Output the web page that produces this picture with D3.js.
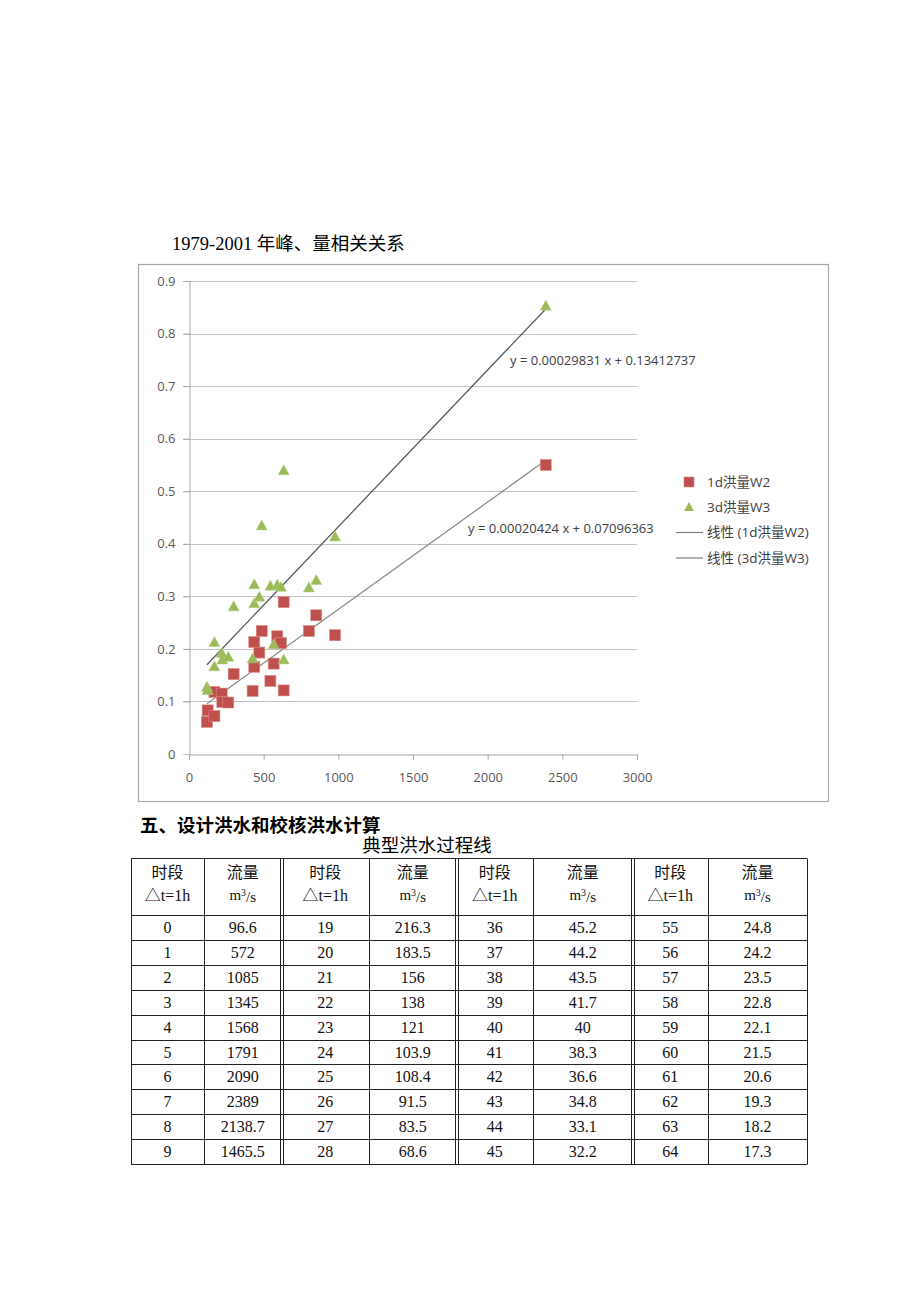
<!DOCTYPE html>
<html>
<head>
<meta charset="utf-8">
<script src="https://cdn.jsdelivr.net/npm/d3@7"></script>
<style>
  body { margin: 0; background: #fff; }
  svg { display: block; }
</style>
</head>
<body>
<script>
// peak flow (x) and flood volumes (y), 1979-2001
const peak = [120, 125, 170, 170, 219, 223, 263, 299, 426, 437, 437, 471, 487, 545, 567, 591, 616, 634, 634, 803, 852, 978, 2389];
const w2 = [0.061, 0.083, 0.072, 0.118, 0.115, 0.099, 0.098, 0.152, 0.120, 0.166, 0.213, 0.193, 0.234, 0.139, 0.172, 0.224, 0.211, 0.121, 0.289, 0.234, 0.264, 0.226, 0.550];
const w3 = [0.128, 0.122, 0.213, 0.167, 0.192, 0.180, 0.185, 0.281, 0.182, 0.323, 0.287, 0.299, 0.435, 0.320, 0.209, 0.322, 0.318, 0.180, 0.540, 0.317, 0.331, 0.414, 0.853];
// trend line coefficients [slope, intercept]
const fitW2 = [0.00020424, 0.07096363];
const fitW3 = [0.00029831, 0.13412737];
const xTicks = [0, 500, 1000, 1500, 2000, 2500, 3000];
const yTicks = [0, 0.1, 0.2, 0.3, 0.4, 0.5, 0.6, 0.7, 0.8, 0.9];
const legendNames = ["1d洪量W2", "3d洪量W3", "线性 (1d洪量W2)", "线性 (3d洪量W3)"];

// table: 典型洪水过程线
const periods = [
  ["0", "1", "2", "3", "4", "5", "6", "7", "8", "9"],
  ["19", "20", "21", "22", "23", "24", "25", "26", "27", "28"],
  ["36", "37", "38", "39", "40", "41", "42", "43", "44", "45"],
  ["55", "56", "57", "58", "59", "60", "61", "62", "63", "64"]
];
const flows = [
  ["96.6", "572", "1085", "1345", "1568", "1791", "2090", "2389", "2138.7", "1465.5"],
  ["216.3", "183.5", "156", "138", "121", "103.9", "108.4", "91.5", "83.5", "68.6"],
  ["45.2", "44.2", "43.5", "41.7", "40", "38.3", "36.6", "34.8", "33.1", "32.2"],
  ["24.8", "24.2", "23.5", "22.8", "22.1", "21.5", "20.6", "19.3", "18.2", "17.3"]
];

const W = 920, H = 1302;
const serif = '"Liberation Serif", "Noto Sans CJK SC", serif';
const sans = '"Open Sans", "Noto Sans CJK SC", sans-serif';

const svg = d3.select("body").append("svg")
  .attr("width", W).attr("height", H);

// page title above chart
svg.append("text")
  .attr("x", 172).attr("y", 250)
  .style("font-family", serif).style("font-size", "18.5px").attr("fill", "#000")
  .text("1979-2001 年峰、量相关关系");

// chart frame
svg.append("rect")
  .attr("x", 138.5).attr("y", 264.5).attr("width", 690).attr("height", 537)
  .attr("fill", "#fff").attr("stroke", "#a8a8a8").attr("stroke-width", 1.2);

const x = d3.scaleLinear().domain([0, 3000]).range([189, 637]);
const y = d3.scaleLinear().domain([0, 0.9]).range([754, 281]);

// gridlines
svg.append("g").selectAll("line")
  .data(yTicks.filter(d => d > 0))
  .enter().append("line")
  .attr("x1", 183).attr("x2", x(3000))
  .attr("y1", d => Math.round(y(d)) + 0.5).attr("y2", d => Math.round(y(d)) + 0.5)
  .attr("stroke", "#c4c0c6").attr("stroke-width", 1);

// y axis
const yAxisG = svg.append("g")
  .attr("transform", "translate(189.5,0)")
  .call(d3.axisLeft(y).tickValues(yTicks).tickSize(6).tickPadding(8)
    .tickFormat(d => d === 0 ? "0" : d3.format(".1f")(d)));
// x axis
const xAxisG = svg.append("g")
  .attr("transform", `translate(0,${Math.round(y(0)) + 0.5})`)
  .call(d3.axisBottom(x).tickValues(xTicks).tickSize(5).tickPadding(13)
    .tickFormat(d3.format("d")));

[yAxisG, xAxisG].forEach(g => {
  g.select(".domain").attr("stroke", "#a6a6a6");
  g.selectAll(".tick line").attr("stroke", "#a6a6a6");
  g.selectAll(".tick text")
    .style("font-family", sans).style("font-size", "13px").attr("fill", "#595959");
});
yAxisG.select(".tick:first-of-type line").attr("stroke", "#c4c0c6");

// trend lines
const extent = d3.extent(peak);
const trend = [[fitW2, "#8c8c8c"], [fitW3, "#5c5c5c"]];
svg.append("g").selectAll("line")
  .data(trend)
  .enter().append("line")
  .attr("x1", x(extent[0])).attr("x2", x(extent[1]))
  .attr("y1", d => y(d[0][0] * extent[0] + d[0][1]))
  .attr("y2", d => y(d[0][0] * extent[1] + d[0][1]))
  .attr("stroke", d => d[1]).attr("stroke-width", 1.3);

// markers
const sq = 11;
svg.append("g").selectAll("rect")
  .data(peak.map((p, i) => [p, w2[i]]))
  .enter().append("rect")
  .attr("x", d => x(d[0]) - sq / 2).attr("y", d => y(d[1]) - sq / 2)
  .attr("width", sq).attr("height", sq)
  .attr("fill", "#c0504d").attr("stroke", "#d98a88").attr("stroke-width", 0.6);

const tri = (cx, cy) => `M${cx},${cy - 5.5}L${cx + 5.5},${cy + 4.5}L${cx - 5.5},${cy + 4.5}Z`;
svg.append("g").selectAll("path")
  .data(peak.map((p, i) => [p, w3[i]]))
  .enter().append("path")
  .attr("d", d => tri(x(d[0]), y(d[1])))
  .attr("fill", "#9bbb59").attr("stroke", "#b3cc80").attr("stroke-width", 0.5);

// equation labels
const eq = [
  [510, 360, "y = 0.00029831 x + 0.13412737"],
  [468, 528, "y = 0.00020424 x + 0.07096363"]
];
svg.append("g").selectAll("text")
  .data(eq)
  .enter().append("text")
  .attr("x", d => d[0]).attr("y", d => d[1]).attr("dy", "0.35em")
  .style("font-family", sans).style("font-size", "13px").attr("fill", "#404040")
  .text(d => d[2]);

// legend
const legY = [482, 507, 532.5, 558];
const leg = svg.append("g");
leg.append("rect").attr("x", 684).attr("y", legY[0] - 5).attr("width", 10).attr("height", 10)
  .attr("fill", "#c0504d").attr("stroke", "#d98a88").attr("stroke-width", 0.6);
leg.append("path").attr("d", `M689,${legY[1] - 5}L694,${legY[1] + 4}L684,${legY[1] + 4}Z`)
  .attr("fill", "#9bbb59");
[2, 3].forEach(i => {
  leg.append("line").attr("x1", 676).attr("x2", 703)
    .attr("y1", legY[i]).attr("y2", legY[i])
    .attr("stroke", "#7f7f7f").attr("stroke-width", 1.2);
});
leg.selectAll("text")
  .data(legendNames)
  .enter().append("text")
  .attr("x", 707).attr("y", (d, i) => legY[i]).attr("dy", "0.35em")
  .style("font-family", sans).style("font-size", "13.5px").attr("fill", "#404040")
  .text(d => d);

// section heading + table title
svg.append("text")
  .attr("x", 140).attr("y", 832)
  .style("font-family", serif).style("font-size", "18.5px").style("font-weight", "bold")
  .text("五、设计洪水和校核洪水计算");
svg.append("text")
  .attr("x", 427).attr("y", 852).attr("text-anchor", "middle")
  .style("font-family", serif).style("font-size", "18.5px")
  .text("典型洪水过程线");

// table
const colX = [131, 204, 281.5, 369, 456.5, 533, 632.5, 708, 807];
const tTop = 858, headBottom = 915, rowH = 24.9;
const nRows = periods[0].length;
const tBottom = headBottom + rowH * nRows;
const tbl = svg.append("g").attr("stroke", "#222").attr("stroke-width", 1);

const hLines = [tTop, headBottom].concat(d3.range(1, nRows + 1).map(i => headBottom + rowH * i));
tbl.selectAll("line.h").data(hLines).enter().append("line")
  .attr("class", "h")
  .attr("x1", colX[0]).attr("x2", colX[8])
  .attr("y1", d => Math.round(d) + 0.5).attr("y2", d => Math.round(d) + 0.5);

colX.forEach((cx, i) => {
  const offs = (i === 2 || i === 4 || i === 6) ? [-1.5, 1.5] : [0];
  offs.forEach(o => {
    tbl.append("line")
      .attr("x1", Math.round(cx + o) + 0.5).attr("x2", Math.round(cx + o) + 0.5)
      .attr("y1", tTop + 0.5).attr("y2", Math.round(tBottom) + 0.5);
  });
});

const cellText = svg.append("g")
  .style("font-family", serif).attr("fill", "#111").attr("text-anchor", "middle");

for (let g = 0; g < 4; g++) {
  const c1 = (colX[2 * g] + colX[2 * g + 1]) / 2;
  const c2 = (colX[2 * g + 1] + colX[2 * g + 2]) / 2;
  cellText.append("text").attr("x", c1).attr("y", 872).attr("dy", "0.35em")
    .style("font-size", "16px").text("时段");
  cellText.append("text").attr("x", c1).attr("y", 895).attr("dy", "0.35em")
    .style("font-size", "16px").text("△t=1h");
  cellText.append("text").attr("x", c2).attr("y", 872).attr("dy", "0.35em")
    .style("font-size", "16px").text("流量");
  const u = cellText.append("text").attr("x", c2).attr("y", 895).attr("dy", "0.35em")
    .style("font-size", "15px");
  u.append("tspan").text("m");
  u.append("tspan").attr("dy", "-0.4em").style("font-size", "10px").text("3");
  u.append("tspan").attr("dy", "0.4em").text("/s");

  cellText.selectAll(null).data(periods[g]).enter().append("text")
    .attr("x", c1).attr("y", (d, i) => headBottom + rowH * (i + 0.5)).attr("dy", "0.35em")
    .style("font-size", "16px").text(d => d);
  cellText.selectAll(null).data(flows[g]).enter().append("text")
    .attr("x", c2).attr("y", (d, i) => headBottom + rowH * (i + 0.5)).attr("dy", "0.35em")
    .style("font-size", "16px").text(d => d);
}
</script>
</body>
</html>
